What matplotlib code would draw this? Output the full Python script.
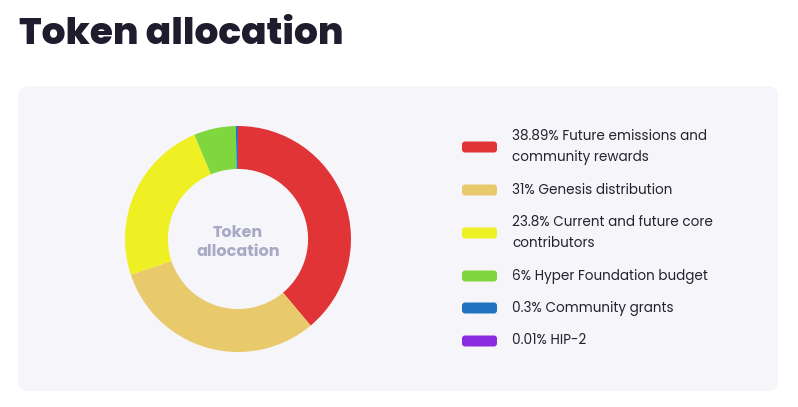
import matplotlib
matplotlib.use("Agg")
import matplotlib.pyplot as plt
from matplotlib.patches import FancyBboxPatch

labels = ["38.89% Future emissions and\ncommunity rewards",
          "31% Genesis distribution",
          "23.8% Current and future core\ncontributors",
          "6% Hyper Foundation budget",
          "0.3% Community grants",
          "0.01% HIP-2"]
values = [38.89, 31, 23.8, 6, 0.3, 0.01]
colors = ["#e03436", "#e8ca6c", "#eef024", "#7fd63e", "#1f72c0", "#8a2be2"]

W, H = 798, 407
fig = plt.figure(figsize=(W / 100, H / 100), dpi=100)
fig.patch.set_facecolor("white")

bg = fig.add_axes([0, 0, 1, 1])
bg.set_xlim(0, W)
bg.set_ylim(H, 0)
bg.axis("off")

card = FancyBboxPatch((18, 86), 760, 305, boxstyle="round,pad=0,rounding_size=10",
                      facecolor="#f6f6fa", edgecolor="none")
bg.add_patch(card)

bg.text(19, 35, "Token allocation", fontsize=27, fontweight=800,
        family=["Poppins", "Inter", "DejaVu Sans"], color="#1f1c2e",
        va="center", ha="left")

# legend
rows_y = [147, 190, 233, 276, 308, 341]
for lab, col, y in zip(labels, colors, rows_y):
    bg.add_patch(FancyBboxPatch((462, y - 5.5), 35, 11,
                                boxstyle="round,pad=0,rounding_size=3",
                                facecolor=col, edgecolor="none"))
    bg.text(512, y, lab, fontsize=9.75, family=["Poppins", "Open Sans", "DejaVu Sans"],
            color="#24232e", va="center", ha="left", linespacing=1.6)

# donut
cx, cy, r = 238, 239, 113
ax = fig.add_axes([(cx - r) / W, (H - cy - r) / H, 2 * r / W, 2 * r / H])
ax.pie(values, colors=colors, startangle=90, counterclock=False, radius=1,
       wedgeprops=dict(width=0.38, edgecolor="none"))
ax.set_xlim(-1, 1)
ax.set_ylim(-1, 1)
ax.set_aspect("equal")
ax.axis("off")
ax.text(0, -0.03, "Token\nallocation", ha="center", va="center", fontsize=11.5,
        fontweight="bold", family=["Poppins", "Inter", "DejaVu Sans"], color="#a8a9c4",
        linespacing=1.25)

fig.savefig("out.png", dpi=100)
